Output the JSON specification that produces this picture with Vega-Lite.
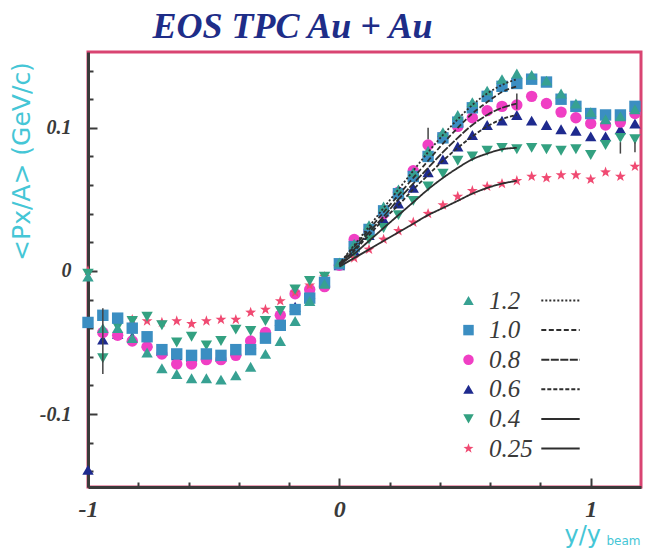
{
  "$schema": "https://vega.github.io/schema/vega-lite/v6.json",
  "width": 553,
  "height": 435,
  "autosize": "none",
  "padding": {"left": 88, "top": 52, "right": 4, "bottom": 64},
  "background": "white",
  "title": {
    "text": "EOS TPC Au + Au",
    "font": "Liberation Serif",
    "fontSize": 36,
    "fontWeight": "bold",
    "fontStyle": "italic",
    "color": "#1e2d88",
    "anchor": "middle",
    "frame": "group",
    "baseline": "alphabetic",
    "offset": -22,
    "dx": -72
  },
  "config": {
    "view": {"stroke": "#d94472", "strokeWidth": 3},
    "axis": {"grid": false}
  },
  "resolve": {"axis": {"x": "independent", "y": "independent"}},
  "layer": [
    {
      "data": {"values": [
        {"E":"0.6","x":-1,"y":-0.139},{"E":"0.6","x":-0.941,"y":-0.048},{"E":"0.6","x":-0.882,"y":-0.044},{"E":"0.6","x":-0.824,"y":-0.046},{"E":"0.6","x":-0.765,"y":-0.050},{"E":"0.6","x":-0.706,"y":-0.056},{"E":"0.6","x":-0.647,"y":-0.059},{"E":"0.6","x":-0.588,"y":-0.060},{"E":"0.6","x":-0.529,"y":-0.059},{"E":"0.6","x":-0.471,"y":-0.060},{"E":"0.6","x":-0.412,"y":-0.056},{"E":"0.6","x":-0.353,"y":-0.051},{"E":"0.6","x":-0.294,"y":-0.044},{"E":"0.6","x":-0.235,"y":-0.035},{"E":"0.6","x":-0.176,"y":-0.025},{"E":"0.6","x":-0.118,"y":-0.016},{"E":"0.6","x":-0.059,"y":-0.007},{"E":"0.6","x":0,"y":0.004},{"E":"0.6","x":0.059,"y":0.014},{"E":"0.6","x":0.118,"y":0.025},{"E":"0.6","x":0.176,"y":0.036},{"E":"0.6","x":0.235,"y":0.047},{"E":"0.6","x":0.294,"y":0.058},{"E":"0.6","x":0.353,"y":0.069},{"E":"0.6","x":0.412,"y":0.078},{"E":"0.6","x":0.471,"y":0.087},{"E":"0.6","x":0.529,"y":0.095},{"E":"0.6","x":0.588,"y":0.102},{"E":"0.6","x":0.647,"y":0.105},{"E":"0.6","x":0.706,"y":0.109},{"E":"0.6","x":0.765,"y":0.105},{"E":"0.6","x":0.824,"y":0.102},{"E":"0.6","x":0.882,"y":0.099},{"E":"0.6","x":0.941,"y":0.098},{"E":"0.6","x":1,"y":0.094},{"E":"0.6","x":1.059,"y":0.094},{"E":"0.6","x":1.118,"y":0.099},{"E":"0.6","x":1.176,"y":0.103},
        {"E":"0.8","x":-0.941,"y":-0.043},{"E":"0.8","x":-0.882,"y":-0.045},{"E":"0.8","x":-0.824,"y":-0.049},{"E":"0.8","x":-0.765,"y":-0.053},{"E":"0.8","x":-0.706,"y":-0.058},{"E":"0.8","x":-0.647,"y":-0.065},{"E":"0.8","x":-0.588,"y":-0.065},{"E":"0.8","x":-0.529,"y":-0.062},{"E":"0.8","x":-0.471,"y":-0.062},{"E":"0.8","x":-0.412,"y":-0.059},{"E":"0.8","x":-0.353,"y":-0.049},{"E":"0.8","x":-0.294,"y":-0.043},{"E":"0.8","x":-0.235,"y":-0.031},{"E":"0.8","x":-0.176,"y":-0.016},{"E":"0.8","x":-0.118,"y":-0.013},{"E":"0.8","x":-0.059,"y":-0.011},{"E":"0.8","x":0,"y":0.004},{"E":"0.8","x":0.059,"y":0.022},{"E":"0.8","x":0.118,"y":0.028},{"E":"0.8","x":0.176,"y":0.040},{"E":"0.8","x":0.235,"y":0.055},{"E":"0.8","x":0.294,"y":0.070},{"E":"0.8","x":0.353,"y":0.088},{"E":"0.8","x":0.412,"y":0.094},{"E":"0.8","x":0.471,"y":0.101},{"E":"0.8","x":0.529,"y":0.107},{"E":"0.8","x":0.588,"y":0.112},{"E":"0.8","x":0.647,"y":0.115},{"E":"0.8","x":0.706,"y":0.116},{"E":"0.8","x":0.765,"y":0.122},{"E":"0.8","x":0.824,"y":0.117},{"E":"0.8","x":0.882,"y":0.111},{"E":"0.8","x":0.941,"y":0.107},{"E":"0.8","x":1,"y":0.103},{"E":"0.8","x":1.059,"y":0.102},{"E":"0.8","x":1.118,"y":0.104},{"E":"0.8","x":1.176,"y":0.110},
        {"E":"0.25","x":-1,"y":0.000},{"E":"0.25","x":-0.824,"y":-0.034},{"E":"0.25","x":-0.765,"y":-0.035},{"E":"0.25","x":-0.706,"y":-0.036},{"E":"0.25","x":-0.647,"y":-0.035},{"E":"0.25","x":-0.588,"y":-0.037},{"E":"0.25","x":-0.529,"y":-0.035},{"E":"0.25","x":-0.471,"y":-0.034},{"E":"0.25","x":-0.412,"y":-0.034},{"E":"0.25","x":-0.353,"y":-0.029},{"E":"0.25","x":-0.294,"y":-0.027},{"E":"0.25","x":-0.235,"y":-0.021},{"E":"0.25","x":-0.176,"y":-0.015},{"E":"0.25","x":-0.118,"y":-0.010},{"E":"0.25","x":-0.059,"y":-0.004},{"E":"0.25","x":0,"y":0.004},{"E":"0.25","x":0.059,"y":0.009},{"E":"0.25","x":0.118,"y":0.015},{"E":"0.25","x":0.176,"y":0.022},{"E":"0.25","x":0.235,"y":0.028},{"E":"0.25","x":0.294,"y":0.034},{"E":"0.25","x":0.353,"y":0.040},{"E":"0.25","x":0.412,"y":0.046},{"E":"0.25","x":0.471,"y":0.052},{"E":"0.25","x":0.529,"y":0.056},{"E":"0.25","x":0.588,"y":0.059},{"E":"0.25","x":0.647,"y":0.061},{"E":"0.25","x":0.706,"y":0.063},{"E":"0.25","x":0.765,"y":0.066},{"E":"0.25","x":0.824,"y":0.065},{"E":"0.25","x":0.882,"y":0.067},{"E":"0.25","x":0.941,"y":0.067},{"E":"0.25","x":1,"y":0.064},{"E":"0.25","x":1.059,"y":0.069},{"E":"0.25","x":1.118,"y":0.066},{"E":"0.25","x":1.176,"y":0.073},
        {"E":"0.4","x":-1,"y":-0.002},{"E":"0.4","x":-0.941,"y":-0.061},{"E":"0.4","x":-0.882,"y":-0.039},{"E":"0.4","x":-0.824,"y":-0.035},{"E":"0.4","x":-0.765,"y":-0.032},{"E":"0.4","x":-0.706,"y":-0.038},{"E":"0.4","x":-0.647,"y":-0.050},{"E":"0.4","x":-0.588,"y":-0.046},{"E":"0.4","x":-0.529,"y":-0.052},{"E":"0.4","x":-0.471,"y":-0.049},{"E":"0.4","x":-0.412,"y":-0.041},{"E":"0.4","x":-0.353,"y":-0.042},{"E":"0.4","x":-0.294,"y":-0.035},{"E":"0.4","x":-0.235,"y":-0.028},{"E":"0.4","x":-0.176,"y":-0.013},{"E":"0.4","x":-0.118,"y":-0.007},{"E":"0.4","x":-0.059,"y":-0.004},{"E":"0.4","x":0,"y":0.005},{"E":"0.4","x":0.059,"y":0.013},{"E":"0.4","x":0.118,"y":0.022},{"E":"0.4","x":0.176,"y":0.030},{"E":"0.4","x":0.235,"y":0.039},{"E":"0.4","x":0.294,"y":0.049},{"E":"0.4","x":0.353,"y":0.059},{"E":"0.4","x":0.412,"y":0.068},{"E":"0.4","x":0.471,"y":0.077},{"E":"0.4","x":0.529,"y":0.080},{"E":"0.4","x":0.588,"y":0.084},{"E":"0.4","x":0.647,"y":0.086},{"E":"0.4","x":0.706,"y":0.085},{"E":"0.4","x":0.765,"y":0.086},{"E":"0.4","x":0.824,"y":0.085},{"E":"0.4","x":0.882,"y":0.084},{"E":"0.4","x":0.941,"y":0.085},{"E":"0.4","x":1,"y":0.081},{"E":"0.4","x":1.059,"y":0.088},{"E":"0.4","x":1.118,"y":0.093},{"E":"0.4","x":1.176,"y":0.092},
        {"E":"1.0","x":-1,"y":-0.036},{"E":"1.0","x":-0.941,"y":-0.031},{"E":"1.0","x":-0.882,"y":-0.033},{"E":"1.0","x":-0.824,"y":-0.040},{"E":"1.0","x":-0.765,"y":-0.046},{"E":"1.0","x":-0.706,"y":-0.055},{"E":"1.0","x":-0.647,"y":-0.058},{"E":"1.0","x":-0.588,"y":-0.059},{"E":"1.0","x":-0.529,"y":-0.058},{"E":"1.0","x":-0.471,"y":-0.059},{"E":"1.0","x":-0.412,"y":-0.055},{"E":"1.0","x":-0.353,"y":-0.055},{"E":"1.0","x":-0.294,"y":-0.047},{"E":"1.0","x":-0.235,"y":-0.038},{"E":"1.0","x":-0.176,"y":-0.027},{"E":"1.0","x":-0.118,"y":-0.019},{"E":"1.0","x":-0.059,"y":-0.008},{"E":"1.0","x":0,"y":0.005},{"E":"1.0","x":0.059,"y":0.017},{"E":"1.0","x":0.118,"y":0.029},{"E":"1.0","x":0.176,"y":0.042},{"E":"1.0","x":0.235,"y":0.054},{"E":"1.0","x":0.294,"y":0.066},{"E":"1.0","x":0.353,"y":0.080},{"E":"1.0","x":0.412,"y":0.093},{"E":"1.0","x":0.471,"y":0.104},{"E":"1.0","x":0.529,"y":0.114},{"E":"1.0","x":0.588,"y":0.122},{"E":"1.0","x":0.647,"y":0.129},{"E":"1.0","x":0.706,"y":0.131},{"E":"1.0","x":0.765,"y":0.134},{"E":"1.0","x":0.824,"y":0.132},{"E":"1.0","x":0.882,"y":0.120},{"E":"1.0","x":0.941,"y":0.115},{"E":"1.0","x":1,"y":0.110},{"E":"1.0","x":1.059,"y":0.109},{"E":"1.0","x":1.118,"y":0.109},{"E":"1.0","x":1.176,"y":0.115},
        {"E":"1.2","x":-1,"y":-0.004},{"E":"1.2","x":-0.941,"y":-0.040},{"E":"1.2","x":-0.882,"y":-0.040},{"E":"1.2","x":-0.824,"y":-0.047},{"E":"1.2","x":-0.765,"y":-0.057},{"E":"1.2","x":-0.706,"y":-0.068},{"E":"1.2","x":-0.647,"y":-0.072},{"E":"1.2","x":-0.588,"y":-0.075},{"E":"1.2","x":-0.529,"y":-0.075},{"E":"1.2","x":-0.471,"y":-0.076},{"E":"1.2","x":-0.412,"y":-0.073},{"E":"1.2","x":-0.353,"y":-0.067},{"E":"1.2","x":-0.294,"y":-0.058},{"E":"1.2","x":-0.235,"y":-0.049},{"E":"1.2","x":-0.176,"y":-0.035},{"E":"1.2","x":-0.118,"y":-0.021},{"E":"1.2","x":-0.059,"y":-0.009},{"E":"1.2","x":0,"y":0.006},{"E":"1.2","x":0.059,"y":0.019},{"E":"1.2","x":0.118,"y":0.032},{"E":"1.2","x":0.176,"y":0.045},{"E":"1.2","x":0.235,"y":0.057},{"E":"1.2","x":0.294,"y":0.069},{"E":"1.2","x":0.353,"y":0.084},{"E":"1.2","x":0.412,"y":0.097},{"E":"1.2","x":0.471,"y":0.109},{"E":"1.2","x":0.529,"y":0.118},{"E":"1.2","x":0.588,"y":0.126},{"E":"1.2","x":0.647,"y":0.134},{"E":"1.2","x":0.706,"y":0.138},{"E":"1.2","x":0.765,"y":0.137},{"E":"1.2","x":0.824,"y":0.133},{"E":"1.2","x":0.882,"y":0.124},{"E":"1.2","x":0.941,"y":0.117},{"E":"1.2","x":1,"y":0.111},{"E":"1.2","x":1.059,"y":0.106},{"E":"1.2","x":1.118,"y":0.108},{"E":"1.2","x":1.176,"y":0.113}
      ]},
      "mark": {"type": "point", "filled": true, "opacity": 1, "size": 130, "strokeWidth": 0},
      "encoding": {
        "x": {
          "field": "x", "type": "quantitative",
          "scale": {"domain": [-1, 1.2], "nice": false, "zero": false},
          "axis": {
            "orient": "bottom",
            "values": [-1, 0, 1],
            "labelExpr": "toString(datum.value)",
            "labelFlush": false,
            "labelOverlap": false,
            "labelFont": "Liberation Serif", "labelFontSize": 24, "labelFontWeight": "bold", "labelFontStyle": "italic",
            "labelColor": "#3a3a3a", "labelBaseline": "alphabetic", "labelPadding": 38,
            "tickSize": -9, "tickWidth": 2, "tickColor": "#3a3a3a",
            "domain": true, "domainColor": "#3a3a3a", "domainWidth": 3,
            "title": "y/y",
            "titleFont": "DejaVu Sans", "titleFontSize": 24, "titleFontWeight": "normal", "titleColor": "#45c6d6",
            "titleAlign": "left", "titleBaseline": "alphabetic", "titleX": 476, "titleY": 55
          }
        },
        "y": {
          "field": "y", "type": "quantitative",
          "scale": {"domain": [-0.151, 0.153], "nice": false, "zero": false},
          "axis": {
            "orient": "left",
            "values": [-0.1, 0, 0.1],
            "labelExpr": "toString(round(datum.value * 10) / 10)",
            "labelOverlap": false,
            "labelFont": "Liberation Serif", "labelFontSize": 20, "labelFontWeight": "bold", "labelFontStyle": "italic",
            "labelColor": "#3a3a3a", "labelBaseline": "middle", "labelPadding": 26,
            "tickSize": -9, "tickWidth": 2, "tickColor": "#3a3a3a",
            "domain": true, "domainColor": "#3a3a3a", "domainWidth": 3,
            "title": "<Px/A> (GeV/c)",
            "titleFont": "DejaVu Sans", "titleFontSize": 25, "titleFontWeight": "normal", "titleColor": "#45c6d6",
            "titleAngle": -90, "titleAlign": "center", "titleBaseline": "middle", "titleX": -67, "titleY": 109
          }
        },
        "color": {
          "field": "E", "type": "nominal",
          "scale": {
            "domain": ["1.2", "1.0", "0.8", "0.6", "0.4", "0.25"],
            "range": ["#37a192", "#3b8ec2", "#f03fc4", "#1e2a8e", "#33a181", "#f04a72"]
          },
          "legend": {
            "orient": "none", "legendX": 368, "legendY": 236, "title": null, "padding": 0,
            "symbolSize": 110, "symbolStrokeWidth": 0,
            "labelFont": "Liberation Serif", "labelFontStyle": "italic", "labelFontSize": 25, "labelColor": "#3a3a3a",
            "labelOffset": 8, "rowPadding": 3.6
          }
        },
        "shape": {
          "field": "E", "type": "nominal",
          "scale": {
            "domain": ["1.2", "1.0", "0.8", "0.6", "0.4", "0.25"],
            "range": ["triangle-up", "square", "circle", "triangle-up", "triangle-down", "M0,-1L0.235,-0.324L0.951,-0.309L0.38,0.124L0.588,0.809L0,0.4L-0.588,0.809L-0.38,0.124L-0.951,-0.309L-0.235,-0.324Z"]
          },
          "legend": {
            "orient": "none", "legendX": 368, "legendY": 236, "title": null, "padding": 0,
            "symbolSize": 110, "symbolStrokeWidth": 0,
            "labelFont": "Liberation Serif", "labelFontStyle": "italic", "labelFontSize": 25, "labelColor": "#3a3a3a",
            "labelOffset": 8, "rowPadding": 3.6
          }
        }
      }
    },
    {
      "data": {"values": [
        {"fit":"fit 1.2","x":0,"y":0.005},{"fit":"fit 1.2","x":0.059,"y":0.018},{"fit":"fit 1.2","x":0.118,"y":0.031},{"fit":"fit 1.2","x":0.176,"y":0.044},{"fit":"fit 1.2","x":0.235,"y":0.057},{"fit":"fit 1.2","x":0.294,"y":0.070},{"fit":"fit 1.2","x":0.353,"y":0.083},{"fit":"fit 1.2","x":0.412,"y":0.095},{"fit":"fit 1.2","x":0.471,"y":0.106},{"fit":"fit 1.2","x":0.529,"y":0.116},{"fit":"fit 1.2","x":0.588,"y":0.124},{"fit":"fit 1.2","x":0.647,"y":0.130},{"fit":"fit 1.2","x":0.706,"y":0.134},
        {"fit":"fit 1.0","x":0,"y":0.005},{"fit":"fit 1.0","x":0.059,"y":0.017},{"fit":"fit 1.0","x":0.118,"y":0.029},{"fit":"fit 1.0","x":0.176,"y":0.041},{"fit":"fit 1.0","x":0.235,"y":0.053},{"fit":"fit 1.0","x":0.294,"y":0.065},{"fit":"fit 1.0","x":0.353,"y":0.077},{"fit":"fit 1.0","x":0.412,"y":0.089},{"fit":"fit 1.0","x":0.471,"y":0.100},{"fit":"fit 1.0","x":0.529,"y":0.110},{"fit":"fit 1.0","x":0.588,"y":0.118},{"fit":"fit 1.0","x":0.647,"y":0.125},{"fit":"fit 1.0","x":0.706,"y":0.129},
        {"fit":"fit 0.8","x":0,"y":0.004},{"fit":"fit 0.8","x":0.059,"y":0.015},{"fit":"fit 0.8","x":0.118,"y":0.027},{"fit":"fit 0.8","x":0.176,"y":0.038},{"fit":"fit 0.8","x":0.235,"y":0.050},{"fit":"fit 0.8","x":0.294,"y":0.061},{"fit":"fit 0.8","x":0.353,"y":0.072},{"fit":"fit 0.8","x":0.412,"y":0.083},{"fit":"fit 0.8","x":0.471,"y":0.093},{"fit":"fit 0.8","x":0.529,"y":0.102},{"fit":"fit 0.8","x":0.588,"y":0.109},{"fit":"fit 0.8","x":0.647,"y":0.114},{"fit":"fit 0.8","x":0.706,"y":0.117},
        {"fit":"fit 0.6","x":0,"y":0.004},{"fit":"fit 0.6","x":0.059,"y":0.014},{"fit":"fit 0.6","x":0.118,"y":0.025},{"fit":"fit 0.6","x":0.176,"y":0.036},{"fit":"fit 0.6","x":0.235,"y":0.046},{"fit":"fit 0.6","x":0.294,"y":0.057},{"fit":"fit 0.6","x":0.353,"y":0.067},{"fit":"fit 0.6","x":0.412,"y":0.077},{"fit":"fit 0.6","x":0.471,"y":0.086},{"fit":"fit 0.6","x":0.529,"y":0.094},{"fit":"fit 0.6","x":0.588,"y":0.101},{"fit":"fit 0.6","x":0.647,"y":0.106},{"fit":"fit 0.6","x":0.706,"y":0.109},
        {"fit":"fit 0.4","x":0,"y":0.004},{"fit":"fit 0.4","x":0.059,"y":0.012},{"fit":"fit 0.4","x":0.118,"y":0.021},{"fit":"fit 0.4","x":0.176,"y":0.030},{"fit":"fit 0.4","x":0.235,"y":0.039},{"fit":"fit 0.4","x":0.294,"y":0.048},{"fit":"fit 0.4","x":0.353,"y":0.057},{"fit":"fit 0.4","x":0.412,"y":0.065},{"fit":"fit 0.4","x":0.471,"y":0.072},{"fit":"fit 0.4","x":0.529,"y":0.078},{"fit":"fit 0.4","x":0.588,"y":0.082},{"fit":"fit 0.4","x":0.647,"y":0.085},{"fit":"fit 0.4","x":0.706,"y":0.086},
        {"fit":"fit 0.25","x":0,"y":0.003},{"fit":"fit 0.25","x":0.059,"y":0.009},{"fit":"fit 0.25","x":0.118,"y":0.015},{"fit":"fit 0.25","x":0.176,"y":0.021},{"fit":"fit 0.25","x":0.235,"y":0.027},{"fit":"fit 0.25","x":0.294,"y":0.033},{"fit":"fit 0.25","x":0.353,"y":0.039},{"fit":"fit 0.25","x":0.412,"y":0.044},{"fit":"fit 0.25","x":0.471,"y":0.049},{"fit":"fit 0.25","x":0.529,"y":0.054},{"fit":"fit 0.25","x":0.588,"y":0.058},{"fit":"fit 0.25","x":0.647,"y":0.061},{"fit":"fit 0.25","x":0.706,"y":0.063}
      ]},
      "mark": {"type": "line", "color": "#2e2e2e", "strokeWidth": 1.8, "interpolate": "monotone"},
      "encoding": {
        "x": {
          "field": "x", "type": "quantitative",
          "scale": {"domain": [-1, 1.2], "nice": false, "zero": false},
          "axis": {
            "orient": "bottom",
            "values": [-0.8, -0.6, -0.4, -0.2, 0.2, 0.4, 0.6, 0.8],
            "labels": false, "domain": false, "title": null,
            "tickSize": -5, "tickWidth": 2, "tickColor": "#3a3a3a"
          }
        },
        "y": {
          "field": "y", "type": "quantitative",
          "scale": {"domain": [-0.151, 0.153], "nice": false, "zero": false},
          "axis": {
            "orient": "left",
            "values": [-0.14, -0.12, -0.08, -0.06, -0.04, -0.02, 0.02, 0.04, 0.06, 0.08, 0.12, 0.14],
            "labels": false, "domain": false, "title": null,
            "tickSize": -5, "tickWidth": 2, "tickColor": "#3a3a3a"
          }
        },
        "strokeDash": {
          "field": "fit", "type": "nominal",
          "scale": {
            "domain": ["fit 1.2", "fit 1.0", "fit 0.8", "fit 0.6", "fit 0.4", "fit 0.25"],
            "range": [[2, 2], [5, 2.5], [8, 1.5], [4, 2], [1, 0], [1, 0]]
          },
          "legend": {
            "orient": "none", "legendX": 460, "legendY": 236, "title": null, "padding": 0,
            "symbolType": "M-3.2,0H3.2", "symbolSize": 144,
            "symbolStrokeColor": "#2e2e2e", "symbolStrokeWidth": 2, "symbolFillColor": "transparent",
            "labelExpr": "'.'",
            "labelFont": "Liberation Serif", "labelFontStyle": "italic", "labelFontSize": 25, "labelOpacity": 0,
            "labelOffset": 8, "rowPadding": 3.6
          }
        }
      }
    },
    {
      "data": {"values": [
        {"x": -0.941, "lo": -0.072, "hi": -0.026},
        {"x": 0.353, "lo": 0.092, "hi": 0.1},
        {"x": 0.706, "lo": 0.113, "hi": 0.124},
        {"x": 1.118, "lo": 0.082, "hi": 0.09},
        {"x": 1.176, "lo": 0.083, "hi": 0.09}
      ]},
      "mark": {"type": "rule", "color": "#444444", "strokeWidth": 1.5},
      "encoding": {
        "x": {
          "field": "x", "type": "quantitative",
          "scale": {"domain": [-1, 1.2], "nice": false, "zero": false},
          "axis": {
            "orient": "bottom", "labels": false, "ticks": false, "domain": false,
            "title": "beam",
            "titleFont": "DejaVu Sans", "titleFontSize": 12, "titleFontWeight": "normal", "titleColor": "#45c6d6",
            "titleAlign": "left", "titleBaseline": "alphabetic", "titleX": 518, "titleY": 57
          }
        },
        "y": {
          "field": "lo", "type": "quantitative",
          "scale": {"domain": [-0.151, 0.153], "nice": false, "zero": false},
          "axis": null
        },
        "y2": {"field": "hi"}
      }
    }
  ]
}
